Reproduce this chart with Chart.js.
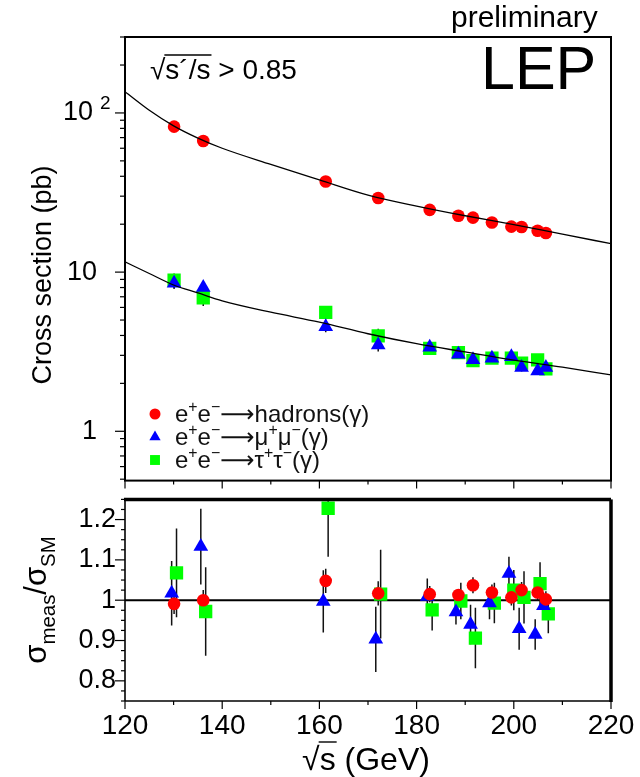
<!DOCTYPE html>
<html>
<head>
<meta charset="utf-8">
<title>LEP fermion-pair cross sections</title>
<script src="https://cdn.jsdelivr.net/npm/chart.js@4.4.1/dist/chart.umd.min.js"></script>
<style>
  body { margin: 0; background: #fff; }
  canvas { position: absolute; left: 0; }
  #xsecChart { top: 0; }
  #ratioChart { top: 490px; }
</style>
</head>
<body>
<canvas id="xsecChart" width="640" height="490"></canvas>
<canvas id="ratioChart" width="640" height="287"></canvas>
<script>
// LEP2 centre-of-mass energies (GeV)
const energies = [130.1, 136.1, 161.3, 172.1, 182.7, 188.6, 191.6, 195.5, 199.5, 201.6, 204.9, 206.6];

// measured cross sections (pb)
const hadXsec = [82.0, 66.7, 37.1, 29.2, 24.6, 22.6, 22.0, 20.5, 19.3, 19.2, 18.2, 17.6];
const muXsec  = [8.5, 8.0, 4.54, 3.49, 3.37, 3.05, 2.81, 2.88, 2.94, 2.52, 2.39, 2.52];
const tauXsec = [8.9, 6.9, 5.59, 3.97, 3.32, 3.12, 2.78, 2.88, 2.88, 2.68, 2.81, 2.47];

// measurement / Standard Model prediction, with errors
const hadRatio    = [0.991, 1.000, 1.048, 1.017, 1.015, 1.013, 1.037, 1.019, 1.007, 1.025, 1.019, 1.002];
const hadRatioErr = [0.025, 0.025, 0.030, 0.030, 0.020, 0.015, 0.020, 0.020, 0.020, 0.020, 0.020, 0.020];
const muRatio     = [1.017, 1.133, 0.997, 0.903, 1.009, 0.971, 0.940, 0.993, 1.066, 0.929, 0.915, 0.986];
const muRatioErr  = [0.080, 0.094, 0.077, 0.081, 0.045, 0.031, 0.049, 0.040, 0.042, 0.052, 0.038, 0.033];
const tauRatio    = [1.068, 0.972, 1.228, 1.015, 0.976, 0.998, 0.906, 0.993, 1.025, 1.007, 1.041, 0.966];
const tauRatioErr = [0.110, 0.110, 0.120, 0.110, 0.051, 0.045, 0.075, 0.050, 0.050, 0.065, 0.053, 0.048];

// SM prediction curves
const curveE   = [120, 125, 130, 135, 140, 150, 160, 170, 180, 190, 200, 210, 220];
const hadCurve = [136, 104, 83, 69.5, 60, 47.5, 38, 30.5, 26.0, 22.6, 19.9, 17.3, 15.1];
const llCurve  = [11.6, 9.8, 8.3, 7.4, 6.6, 5.6, 4.85, 4.1, 3.55, 3.15, 2.8, 2.53, 2.26];

// tick labels
const xsecTicks  = [1, 10, 100];
const ratioTicks = [0.8, 0.9, 1, 1.1, 1.2];
const energyTicks = [120, 140, 160, 180, 200, 220];

const FAMILY = '"Liberation Sans", Arial, Helvetica, "DejaVu Sans", sans-serif';
const font = size => size + 'px ' + FAMILY;
const RED = '#ff0000', BLUE = '#0000ff', GREEN = '#00ff00';

// draw text made of pieces; kind 1 = superscript, -1 = subscript
function drawRich(ctx, parts, x, y, size, measureOnly) {
    let cx = x;
    parts.forEach(([text, kind]) => {
        const s = kind ? size * 0.66 : size;
        const dy = kind === 1 ? -size * 0.42 : kind === -1 ? size * 0.28 : 0;
        ctx.font = font(s);
        if (!measureOnly) ctx.fillText(text, cx, y + dy);
        cx += ctx.measureText(text).width;
    });
    return cx - x;
}

function line(ctx, x1, y1, x2, y2) {
    ctx.beginPath();
    ctx.moveTo(x1, y1);
    ctx.lineTo(x2, y2);
    ctx.stroke();
}

function drawErrorBars(chart, sets) {
    const { ctx, chartArea: a, scales: { x, y } } = chart;
    ctx.save();
    ctx.beginPath();
    ctx.rect(a.left, a.top, a.right - a.left, a.bottom - a.top);
    ctx.clip();
    ctx.strokeStyle = '#111';
    ctx.lineWidth = 1.5;
    sets.forEach(s => {
        s.vals.forEach((v, i) => {
            const px = x.getPixelForValue(energies[i] + s.shift);
            line(ctx, px, y.getPixelForValue(s.hi(v, i)), px, y.getPixelForValue(s.lo(v, i)));
        });
    });
    ctx.restore();
}

function energyTickMarks(ctx, x, a) {
    for (let e = 120; e <= 220; e += 10) {
        const px = x.getPixelForValue(e);
        line(ctx, px, a.bottom, px, a.bottom + (e % 20 === 0 ? 8 : 4));
    }
}

// keep the plot frame where it belongs: no extra room for tick labels
const fixWidth = w => s => { s.width = w; s.paddingTop = 0; s.paddingBottom = 0; };
const fixHeight = h => s => { s.height = h; s.paddingLeft = 0; s.paddingRight = 0; };

const ARROW = '\u27f6';
const legendRows = [
    { style: 'circle', color: RED, r: 5.5, parts: [['e'], ['+', 1], ['e'], ['\u2212', 1], [ARROW + 'hadrons(\u03b3)']] },
    { style: 'triangle', color: BLUE, r: 6.5, parts: [['e'], ['+', 1], ['e'], ['\u2212', 1], [ARROW + '\u03bc'], ['+', 1], ['\u03bc'], ['\u2212', 1], ['(\u03b3)']] },
    { style: 'rect', color: GREEN, r: 7, parts: [['e'], ['+', 1], ['e'], ['\u2212', 1], [ARROW + '\u03c4'], ['+', 1], ['\u03c4'], ['\u2212', 1], ['(\u03b3)']] }
];

const xsecDecor = {
    id: 'xsecDecor',
    beforeDatasetsDraw(chart) {
        const rel = (vals, r, e) => ({
            vals, shift: 0,
            hi: (v, i) => v * (1 + e[i] / r[i]),
            lo: (v, i) => v * (1 - e[i] / r[i])
        });
        drawErrorBars(chart, [
            rel(tauXsec, tauRatio, tauRatioErr),
            rel(muXsec, muRatio, muRatioErr),
            rel(hadXsec, hadRatio, hadRatioErr)
        ]);
    },
    afterDraw(chart) {
        const { ctx, chartArea: a, scales: { x, y } } = chart;
        ctx.save();
        ctx.strokeStyle = '#000';
        ctx.fillStyle = '#000';

        // frame and ticks
        ctx.lineWidth = 2;
        ctx.strokeRect(a.left, a.top, a.right - a.left, a.bottom - a.top);
        ctx.lineWidth = 1.2;
        for (let k = -1; k <= 2; k++) {
            for (let m = 1; m <= 9; m++) {
                const v = m * Math.pow(10, k);
                if (v < y.min || v > y.max) continue;
                const py = y.getPixelForValue(v);
                line(ctx, a.left - (m === 1 ? 10 : 5), py, a.left, py);
            }
        }
        energyTickMarks(ctx, x, a);

        // 10^2 label
        const y100 = y.getPixelForValue(100);
        ctx.font = font(27);
        ctx.textAlign = 'right';
        ctx.textBaseline = 'middle';
        ctx.fillText('10', 93, y100);
        ctx.font = font(19);
        ctx.textAlign = 'left';
        ctx.textBaseline = 'alphabetic';
        ctx.fillText('2', 100, y100 - 4);

        // y title
        ctx.save();
        ctx.translate(44, 275);
        ctx.rotate(-Math.PI / 2);
        ctx.textAlign = 'center';
        ctx.textBaseline = 'middle';
        ctx.font = font(27);
        ctx.fillText('Cross section (pb)', 0, 0);
        ctx.restore();

        // header texts
        ctx.textAlign = 'left';
        ctx.textBaseline = 'alphabetic';
        ctx.font = font(30);
        ctx.fillText('preliminary', 451, 27);
        ctx.font = font(61);
        ctx.fillText('LEP', 481, 89);

        // cut label with radical sign
        ctx.font = font(28);
        let cx = 150;
        ctx.fillText('\u221a', cx, 79);
        cx += ctx.measureText('\u221a').width;
        const under = 's\u00b4/s';
        ctx.fillText(under, cx, 79);
        const wu = ctx.measureText(under).width;
        ctx.lineWidth = 1.3;
        line(ctx, cx - 1, 55, cx + wu + 1, 55);
        ctx.fillText(' > 0.85', cx + wu, 79);

        // legend
        legendRows.forEach((row, i) => {
            const ly = 414 + i * 23;
            ctx.fillStyle = row.color;
            Chart.helpers.drawPoint(ctx, { pointStyle: row.style, radius: row.r, rotation: 0, borderWidth: 0 }, 155, ly);
            ctx.fillStyle = '#111';
            drawRich(ctx, row.parts, 175, ly + 8, 24);
        });
        ctx.restore();
    }
};

const ratioDecor = {
    id: 'ratioDecor',
    beforeDatasetsDraw(chart) {
        const { ctx, chartArea: a, scales: { y } } = chart;
        ctx.save();
        ctx.strokeStyle = '#000';
        ctx.lineWidth = 2;
        line(ctx, a.left, y.getPixelForValue(1), a.right, y.getPixelForValue(1));
        ctx.restore();
        const abs = (vals, e, shift) => ({
            vals, shift,
            hi: (v, i) => v + e[i],
            lo: (v, i) => v - e[i]
        });
        drawErrorBars(chart, [
            abs(tauRatio, tauRatioErr, 0.5),
            abs(muRatio, muRatioErr, -0.5),
            abs(hadRatio, hadRatioErr, 0)
        ]);
    },
    afterDraw(chart) {
        const { ctx, chartArea: a, scales: { x, y } } = chart;
        ctx.save();
        ctx.strokeStyle = '#000';
        ctx.fillStyle = '#000';

        // frame: thin left/bottom, heavy top/right
        ctx.lineWidth = 1.6;
        line(ctx, a.left, a.top, a.left, a.bottom);
        line(ctx, a.left, a.bottom, a.right, a.bottom);
        ctx.lineWidth = 3.5;
        line(ctx, a.left - 1, a.top, a.right, a.top);
        line(ctx, a.right, a.top, a.right, a.bottom + 1);

        ctx.lineWidth = 1.2;
        for (let k = 30; k <= 50; k++) {
            const v = k * 0.025;
            const py = y.getPixelForValue(v);
            line(ctx, a.left - (k % 4 === 0 ? 10 : 4), py, a.left, py);
        }
        energyTickMarks(ctx, x, a);

        // y title sigma_meas / sigma_SM
        const parts = [['\u03c3'], ['meas', -1], ['/\u03c3'], ['SM', -1]];
        const w = drawRich(ctx, parts, 0, 0, 31, true);
        ctx.save();
        ctx.translate(46, 110);
        ctx.rotate(-Math.PI / 2);
        ctx.textAlign = 'left';
        ctx.textBaseline = 'alphabetic';
        drawRich(ctx, parts, -w / 2, 0, 31);
        ctx.restore();

        // x title with radical
        ctx.textAlign = 'left';
        ctx.textBaseline = 'alphabetic';
        ctx.font = font(32);
        const wr = ctx.measureText('\u221a').width;
        const ws = ctx.measureText('s').width;
        const wt = ctx.measureText(' (GeV)').width;
        let cx = 366 - (wr + ws + wt) / 2;
        ctx.fillText('\u221a', cx, 280);
        cx += wr;
        ctx.fillText('s', cx, 280);
        ctx.lineWidth = 1.4;
        line(ctx, cx - 1, 252, cx + ws + 1, 252);
        ctx.fillText(' (GeV)', cx + ws, 280);
        ctx.restore();
    }
};

const tickFont = { family: FAMILY, size: 27 };

function markerSets(hv, mv, tv, muShift, tauShift) {
    return [
        { data: energies.map((e, i) => ({ x: e, y: hv[i] })), pointStyle: 'circle', pointRadius: 6.3,
          pointBackgroundColor: RED, pointBorderWidth: 0 },
        { data: energies.map((e, i) => ({ x: e + muShift, y: mv[i] })), pointStyle: 'triangle', pointRadius: 8.5,
          pointBackgroundColor: BLUE, pointBorderWidth: 0 },
        { data: energies.map((e, i) => ({ x: e + tauShift, y: tv[i] })), pointStyle: 'rect', pointRadius: 9.4,
          pointBackgroundColor: GREEN, pointBorderWidth: 0 }
    ];
}

function curveSet(vals) {
    return {
        data: curveE.map((e, i) => ({ x: e, y: vals[i] })),
        showLine: true, borderColor: '#000', borderWidth: 1.3, pointRadius: 0,
        cubicInterpolationMode: 'monotone'
    };
}

new Chart(document.getElementById('xsecChart'), {
    type: 'scatter',
    data: {
        datasets: [curveSet(hadCurve), curveSet(llCurve)].concat(markerSets(hadXsec, muXsec, tauXsec, 0, 0))
    },
    options: {
        responsive: false,
        animation: false,
        layout: { padding: { top: 37, right: 29, bottom: 8, left: 0 } },
        plugins: { legend: { display: false }, tooltip: { enabled: false } },
        scales: {
            x: { type: 'linear', min: 120, max: 220, display: false },
            y: {
                type: 'logarithmic', min: 0.49, max: 300,
                afterFit: fixWidth(125),
                afterBuildTicks: s => { s.ticks = xsecTicks.map(v => ({ value: v })); },
                grid: { display: false, drawTicks: false },
                border: { display: false },
                ticks: { padding: 28, color: '#000', font: tickFont,
                         callback: v => (v === 100 ? '' : String(v)) }
            }
        }
    },
    plugins: [xsecDecor]
});

new Chart(document.getElementById('ratioChart'), {
    type: 'scatter',
    data: { datasets: markerSets(hadRatio, muRatio, tauRatio, -0.5, 0.5) },
    options: {
        responsive: false,
        animation: false,
        layout: { padding: { top: 6, right: 29, bottom: 0, left: 0 } },
        plugins: { legend: { display: false }, tooltip: { enabled: false } },
        scales: {
            x: {
                type: 'linear', min: 120, max: 220,
                afterFit: fixHeight(76),
                afterBuildTicks: s => { s.ticks = energyTicks.map(v => ({ value: v })); },
                grid: { display: false, drawTicks: false },
                border: { display: false },
                ticks: { padding: 8, color: '#000', font: { family: FAMILY, size: 28 }, maxRotation: 0, autoSkip: false }
            },
            y: {
                type: 'linear', min: 0.75, max: 1.25,
                afterFit: fixWidth(125),
                afterBuildTicks: s => { s.ticks = ratioTicks.map(v => ({ value: v })); },
                grid: { display: false, drawTicks: false },
                border: { display: false },
                ticks: { padding: 9, color: '#000', font: tickFont,
                         callback: v => String(Math.round(v * 10) / 10) }
            }
        }
    },
    plugins: [ratioDecor]
});
</script>
</body>
</html>
